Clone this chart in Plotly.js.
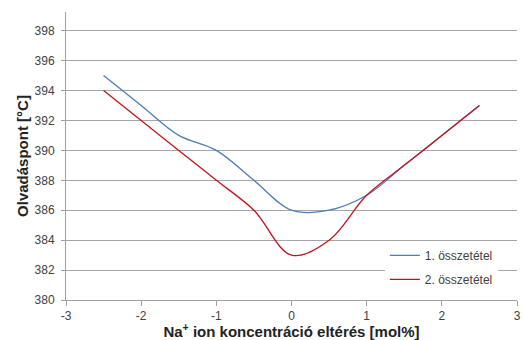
<!DOCTYPE html>
<html>
<head>
<meta charset="utf-8">
<script src="https://cdn.plot.ly/plotly-3.0.1.min.js"></script>
<style>html,body{margin:0;padding:0;background:#fff}#chart{width:523px;height:340px}</style>
</head>
<body>
<div id="chart"></div>
<script>
const xValues = [-2.5, -2, -1.5, -1, -0.5, 0, 0.5, 1, 1.5, 2, 2.5];
const series1 = [395, 393, 391, 390, 388, 386, 386, 387, 389, 391, 393];
const series2 = [394, 392, 390, 388, 386, 383, 384, 387, 389, 391, 393];
const seriesNames = ['1. összetétel', '2. összetétel'];
const yTicks = [380, 382, 384, 386, 388, 390, 392, 394, 396, 398];
const xTicks = [-3, -2, -1, 0, 1, 2, 3];

const font = 'Liberation Sans, Arial, sans-serif';
const traces = [
  {x: xValues, y: series1, name: seriesNames[0], mode: 'lines', legendgroup: 'a',
   line: {color: '#4a7ebb', width: 1.3, shape: 'spline', smoothing: 1}},
  {x: xValues, y: series2, name: seriesNames[1], mode: 'lines', legendgroup: 'b',
   line: {color: '#c0141c', width: 1.3, shape: 'spline', smoothing: 1}}
];
const layout = {
  width: 523, height: 340,
  margin: {l: 66, r: 6, t: 12, b: 40},
  paper_bgcolor: '#fff', plot_bgcolor: '#fff',
  font: {family: font, size: 12, color: '#404040'},
  showlegend: true,
  legend: {x: 0.707, xanchor: 'left', y: 0.205, yanchor: 'top', bgcolor: '#fff',
           font: {size: 12, color: '#404040'}, tracegroupgap: 5},
  xaxis: {
    range: [-3, 3], tickvals: xTicks, ticktext: xTicks.map(String),
    showgrid: false, zeroline: false, showline: true, linecolor: '#a0a0a0', linewidth: 1,
    ticks: 'outside', ticklen: 5, tickcolor: '#a0a0a0',
    title: {text: 'Na<sup>+</sup> ion koncentráció eltérés [mol%]', standoff: 6,
            font: {family: font, size: 15, color: '#222', weight: 'bold'}}
  },
  yaxis: {
    range: [380, 399.25], tickvals: yTicks, ticktext: yTicks.map(String),
    showgrid: true, gridcolor: '#a6a6a6', gridwidth: 1,
    zeroline: false, showline: true, linecolor: '#a0a0a0', linewidth: 1,
    ticks: 'outside', ticklen: 4, tickcolor: '#a0a0a0', ticklabelstandoff: 4,
    title: {text: 'Olvadáspont [°C]', standoff: 2,
            font: {family: font, size: 15, color: '#222', weight: 'bold'}}
  }
};
Plotly.newPlot('chart', traces, layout, {displayModeBar: false, staticPlot: true});
</script>
</body>
</html>
